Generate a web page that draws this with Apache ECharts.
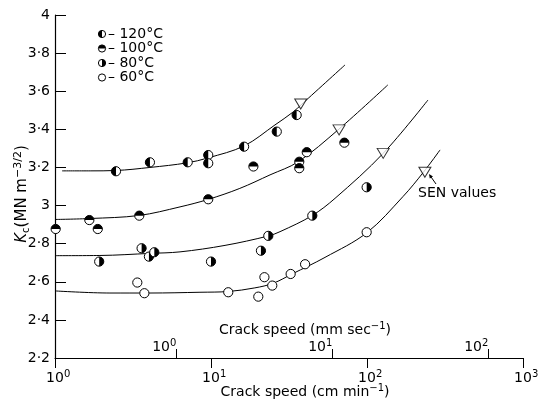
<!DOCTYPE html>
<html>
<head>
<meta charset="utf-8">
<script src="https://cdn.jsdelivr.net/npm/echarts@6/dist/echarts.min.js"></script>
<style>
  html, body { margin: 0; padding: 0; background: #fff; }
  #chart { width: 545px; height: 402px; }
</style>
</head>
<body>
<div id="chart"></div>
<script>
// crack speed in cm/min (bottom scale), K_c in MN m^-3/2
var speedTicks = [1, 10, 100, 1000]
var mmSecTicks = [1, 10, 100]
var mmSecPerCmMin = 1 / 6

var pts120 = [[2.46, 3.18], [4.06, 3.227], [7.09, 3.227], [9.6, 3.265], [9.6, 3.222], [16.3, 3.309], [26.4, 3.388], [35.4, 3.475]]
var pts100 = [[1.01, 2.877], [1.66, 2.924], [1.88, 2.877], [3.47, 2.947], [9.6, 3.033], [18.7, 3.205], [36.8, 3.23], [36.8, 3.196], [41.1, 3.28], [71.6, 3.33]]
var pts80 = [[1.92, 2.706], [3.59, 2.776], [4.0, 2.732], [4.33, 2.755], [10, 2.706], [20.9, 2.763], [23.3, 2.841], [44.6, 2.947], [99.5, 3.096]]
var pts60 = [[3.37, 2.596], [3.74, 2.54], [12.9, 2.545], [20.1, 2.522], [22.0, 2.624], [24.7, 2.58], [32.4, 2.641], [40.1, 2.692], [99.5, 2.86]]
var senPts = [[37.6, 3.533], [66.2, 3.397], [127, 3.274], [235, 3.175]]

var fit120 = [[1.11, 3.182], [1.68, 3.182], [2.46, 3.184], [4.06, 3.2], [7.02, 3.224], [9.57, 3.25], [16.3, 3.313], [25.7, 3.423], [33.6, 3.491], [38.3, 3.533], [72.3, 3.738]]
var fit100 = [[1, 2.927], [1.68, 2.932], [3.46, 2.948], [6.33, 2.993], [9.57, 3.032], [15.3, 3.09], [23.9, 3.161], [36.1, 3.229], [65.2, 3.397], [136, 3.633]]
var fit80 = [[1, 2.737], [1.94, 2.738], [4.06, 2.749], [6.33, 2.757], [12.3, 2.791], [23.2, 2.84], [27.7, 2.863], [44.4, 2.947], [62.4, 3.038], [127, 3.274], [246, 3.554]]
var fit60 = [[1, 2.552], [2.25, 2.541], [4.06, 2.541], [8.5, 2.545], [12.9, 2.549], [19.1, 2.568], [25, 2.592], [33.1, 2.641], [53.8, 2.728], [100, 2.858], [170, 3.047], [229, 3.173], [294, 3.292]]

var legendNames = ['– 120°C', '– 100°C', '– 80°C', '– 60°C']

var FONT = 'DejaVu Sans'
var R = 4.6

// half-black circles: [startAngle, endAngle] of the black half, null = open
var halves = [
  [Math.PI / 2, Math.PI * 3 / 2], // left black
  [Math.PI, Math.PI * 2], // top black
  [-Math.PI / 2, Math.PI / 2], // right black
  null
]

function circleShapes(cx, cy, r, half) {
  var list = [{
    type: 'circle',
    shape: { cx: cx, cy: cy, r: r },
    style: { fill: '#fff', stroke: '#000', lineWidth: 1 }
  }]
  if (half) {
    list.push({
      type: 'sector',
      shape: { cx: cx, cy: cy, r: r, r0: 0, startAngle: half[0], endAngle: half[1], clockwise: true },
      style: { fill: '#000' }
    })
  }
  return list
}

function pointSeries(data, half) {
  return {
    type: 'custom',
    xAxisIndex: 0,
    yAxisIndex: 0,
    z: 5,
    data: data,
    renderItem: function(params, api) {
      var p = api.coord([api.value(0), api.value(1)])
      return { type: 'group', children: circleShapes(p[0], p[1], R, half) }
    }
  }
}

function curveSeries(data) {
  return {
    type: 'line',
    xAxisIndex: 0,
    data: data,
    smooth: 0.35,
    showSymbol: false,
    symbol: 'none',
    z: 2,
    lineStyle: { color: '#000', width: 1 }
  }
}

var supRich = {
  b: { fontFamily: FONT, fontSize: 14, color: '#000', lineHeight: 18 },
  s: { fontFamily: FONT, fontSize: 10, color: '#000', verticalAlign: 'top', lineHeight: 10 },
  sp: { fontFamily: FONT, fontSize: 10, color: 'rgba(0,0,0,0)', lineHeight: 10 }
}

function expOf(v) {
  return Math.round(Math.log(v) / Math.LN10)
}

function labelRich(size) {
  return {
    a: { fontFamily: FONT, fontSize: size, fill: '#000', lineHeight: size + 4 },
    s: { fontFamily: FONT, fontSize: size - 4, fill: '#000', verticalAlign: 'top', lineHeight: size - 4 }
  }
}

var legendGraphics = []
legendNames.forEach(function(name, i) {
  var y = 34 + i * 14.5
  legendGraphics = legendGraphics.concat(circleShapes(102, y, 3.6, halves[i]))
  legendGraphics.push({
    type: 'text',
    x: 108,
    y: y,
    style: { text: name, fontFamily: FONT, fontSize: 14, fill: '#000', verticalAlign: 'middle' }
  })
})

var yNameRich = labelRich(15)
yNameRich.i = { fontFamily: FONT, fontStyle: 'italic', fontSize: 15, fill: '#000', lineHeight: 19 }
yNameRich.sub = { fontFamily: FONT, fontSize: 10, fill: '#000', verticalAlign: 'bottom', lineHeight: 10 }

var chart = echarts.init(document.getElementById('chart'))
var option = {
  animation: false,
  backgroundColor: '#fff',
  grid: { left: 55, right: 22, top: 15, bottom: 44 },
  xAxis: [
    {
      type: 'log',
      logBase: 10,
      min: speedTicks[0],
      max: speedTicks[speedTicks.length - 1],
      position: 'bottom',
      axisLine: { onZero: false, lineStyle: { color: '#000', width: 1.2 } },
      axisTick: { length: 10, lineStyle: { color: '#000', width: 1 } },
      splitLine: { show: false },
      minorTick: { show: false },
      axisLabel: {
        margin: 11,
        formatter: function(v) {
          var e = expOf(v)
          return '{sp|' + e + '}{b|10}{s|' + e + '}'
        },
        rich: supRich
      }
    },
    {
      type: 'log',
      logBase: 10,
      min: speedTicks[0] * mmSecPerCmMin,
      max: speedTicks[speedTicks.length - 1] * mmSecPerCmMin,
      position: 'bottom',
      axisLine: { show: false, onZero: false },
      axisTick: { inside: true, length: 9, customValues: mmSecTicks, lineStyle: { color: '#000', width: 1 } },
      splitLine: { show: false },
      minorTick: { show: false },
      axisLabel: {
        inside: true,
        margin: 2,
        align: 'right',
        customValues: mmSecTicks,
        formatter: function(v) {
          return '{b|10}{s|' + expOf(v) + '}'
        },
        rich: supRich
      }
    }
  ],
  yAxis: {
    type: 'value',
    min: 2.2,
    max: 4,
    interval: 0.2,
    axisLine: { show: true, lineStyle: { color: '#000', width: 1.2 } },
    axisTick: { inside: true, length: 11, lineStyle: { color: '#000', width: 1 } },
    splitLine: { show: false },
    axisLabel: {
      margin: 5,
      fontFamily: FONT,
      fontSize: 14,
      color: '#000',
      formatter: function(v) {
        return String(Math.round(v * 10) / 10).replace('.', '·')
      }
    }
  },
  graphic: [
    {
      type: 'text',
      x: 22,
      y: 194,
      rotation: Math.PI / 2,
      style: {
        text: '{i|K}{sub|c}{a|(MN m}{s|−3/2}{a|)}',
        align: 'center',
        verticalAlign: 'middle',
        rich: yNameRich
      }
    },
    {
      type: 'text',
      x: 305,
      y: 330,
      style: {
        text: '{a|Crack speed (mm sec}{s|−1}{a|)}',
        align: 'center',
        verticalAlign: 'middle',
        rich: labelRich(14)
      }
    },
    {
      type: 'text',
      x: 305,
      y: 392,
      style: {
        text: '{a|Crack speed (cm min}{s|−1}{a|)}',
        align: 'center',
        verticalAlign: 'middle',
        rich: labelRich(14)
      }
    },
    {
      type: 'text',
      x: 418,
      y: 193,
      style: { text: 'SEN values', fontFamily: FONT, fontSize: 14, fill: '#000', verticalAlign: 'middle' }
    },
    {
      type: 'polyline',
      shape: { points: [[436, 184], [430, 175.5]] },
      style: { stroke: '#000', lineWidth: 1 }
    },
    {
      type: 'polygon',
      shape: { points: [[429, 174], [433, 176.4], [429.8, 178.6]] },
      style: { fill: '#000' }
    }
  ].concat(legendGraphics),
  series: [
    curveSeries(fit120),
    curveSeries(fit100),
    curveSeries(fit80),
    curveSeries(fit60),
    pointSeries(pts120, halves[0]),
    pointSeries(pts100, halves[1]),
    pointSeries(pts80, halves[2]),
    pointSeries(pts60, halves[3]),
    {
      type: 'scatter',
      xAxisIndex: 0,
      data: senPts,
      symbol: 'triangle',
      symbolRotate: 180,
      symbolSize: [12, 10],
      z: 6,
      itemStyle: { color: '#fff', borderColor: '#000', borderWidth: 1 }
    }
  ]
}
chart.setOption(option)
</script>
</body>
</html>
